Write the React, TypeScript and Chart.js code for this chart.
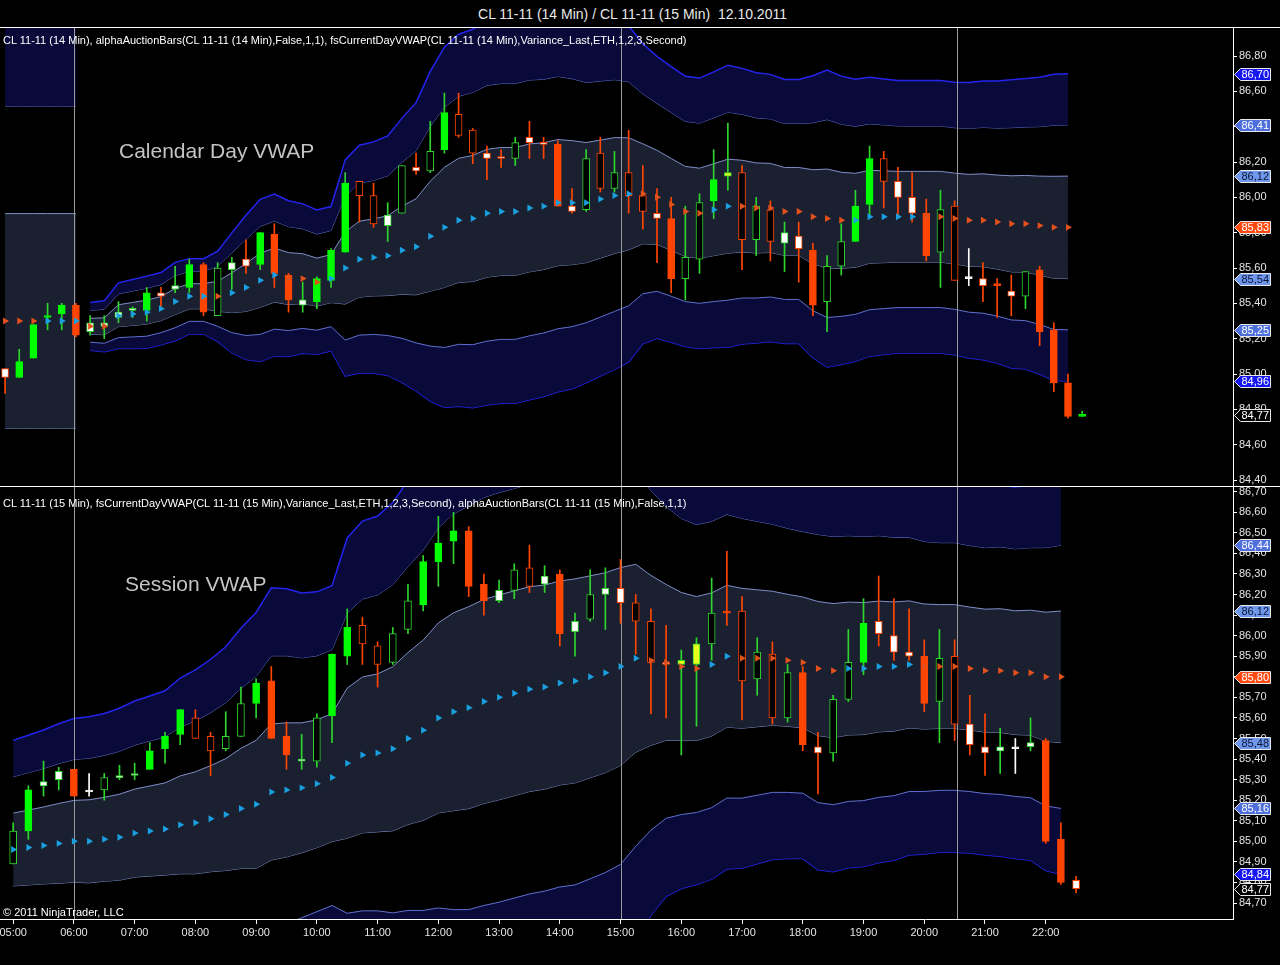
import { useEffect, useRef } from 'react'
import { Chart, registerables } from 'chart.js'
import type { ChartConfiguration, Plugin } from 'chart.js'

Chart.register(...registerables)

const FONT = '"Liberation Sans", Arial, sans-serif'

// x axis in minutes after 05:00
const X_MIN = -13
const X_MAX = 1205
const hourTicks = [0, 60, 120, 180, 240, 300, 360, 420, 480, 540, 600, 660, 720, 780, 840, 900, 960, 1020]
const sessionMarks = [60, 600, 932]

// ---- CL 11-11 (14 Min) ----
const topFirstBar = -8
const topBarMinutes = 14
const topOpen = [
  85.03, 84.98, 85.09, 85.32, 85.34, 85.39, 85.24, 85.27, 85.32, 85.36,
  85.36, 85.46, 85.48, 85.49, 85.62, 85.33, 85.59, 85.65, 85.62, 85.79,
  85.56, 85.39, 85.41, 85.53, 85.69, 86.09, 86.01, 85.84, 85.91, 86.17,
  86.15, 86.27, 86.47, 86.38, 86.25, 86.23, 86.22, 86.34, 86.31, 86.30,
  85.95, 85.93, 86.25, 86.05, 86.14, 86.01, 85.91, 85.88, 85.54, 85.65,
  85.98, 86.12, 86.14, 85.76, 85.93, 85.74, 85.78, 85.70, 85.41, 85.61,
  85.75, 85.96, 86.22, 86.09, 86.00, 85.91, 85.69, 85.95, 85.54, 85.54,
  85.50, 85.47, 85.44, 85.59, 85.25, 84.95, 84.76,
]
const topHigh = [
  85.03, 85.14, 85.28, 85.40, 85.40, 85.40, 85.33, 85.33, 85.41, 85.38,
  85.49, 85.49, 85.61, 85.65, 85.63, 85.63, 85.66, 85.76, 85.80, 85.85,
  85.57, 85.52, 85.55, 85.71, 86.14, 86.09, 86.08, 85.97, 86.18, 86.25,
  86.43, 86.59, 86.59, 86.39, 86.29, 86.27, 86.34, 86.43, 86.34, 86.32,
  86.05, 86.27, 86.34, 86.26, 86.38, 86.18, 86.05, 86.00, 85.95, 86.02,
  86.27, 86.42, 86.18, 86.00, 85.98, 85.86, 85.86, 85.74, 85.67, 85.85,
  86.04, 86.29, 86.26, 86.17, 86.14, 85.99, 86.04, 85.98, 85.71, 85.63,
  85.54, 85.56, 85.58, 85.61, 85.29, 85.00, 84.79,
]
const topLow = [
  84.89, 84.98, 85.09, 85.25, 85.25, 85.21, 85.22, 85.20, 85.29, 85.32,
  85.30, 85.38, 85.46, 85.46, 85.33, 85.33, 85.48, 85.57, 85.59, 85.49,
  85.35, 85.35, 85.37, 85.49, 85.69, 85.86, 85.83, 85.75, 85.91, 86.13,
  86.14, 86.25, 86.34, 86.19, 86.10, 86.17, 86.18, 86.22, 86.22, 85.95,
  85.91, 85.92, 86.03, 86.03, 85.91, 85.82, 85.63, 85.46, 85.42, 85.57,
  85.88, 86.04, 85.59, 85.67, 85.64, 85.58, 85.52, 85.33, 85.24, 85.56,
  85.75, 85.90, 85.94, 85.89, 85.86, 85.64, 85.49, 85.53, 85.50, 85.41,
  85.32, 85.33, 85.37, 85.16, 84.90, 84.75, 84.76,
]
const topClose = [
  84.98, 85.07, 85.28, 85.33, 85.39, 85.22, 85.29, 85.29, 85.35, 85.37,
  85.46, 85.44, 85.50, 85.62, 85.35, 85.60, 85.63, 85.61, 85.80, 85.57,
  85.42, 85.42, 85.54, 85.70, 86.08, 86.01, 85.85, 85.90, 86.18, 86.15,
  86.26, 86.48, 86.35, 86.25, 86.22, 86.22, 86.31, 86.31, 86.30, 85.95,
  85.92, 86.22, 86.05, 86.14, 86.01, 85.92, 85.88, 85.54, 85.66, 85.97,
  86.10, 86.14, 85.76, 85.95, 85.75, 85.80, 85.71, 85.39, 85.61, 85.75,
  85.95, 86.22, 86.09, 86.00, 85.91, 85.67, 85.93, 85.53, 85.54, 85.50,
  85.50, 85.44, 85.58, 85.24, 84.95, 84.76, 84.77,
]
// bar paint: G/g green filled/hollow, R/r orange filled/hollow, W/w white body, X white doji, Y yellow
const topKinds = 'WGGGGRwwww' + 'GWwGRgwWGR' + 'RwGGGrrwgW' + 'gGrrWWgWWR' + 'WgrgrrWRgg' +
  'GYrgrwWRgg' + 'GGrWWRgrXW' + 'RWgRRRG'
const topVwap = [
  85.30, 85.30, 85.30, 85.30, 85.30, 85.30,
  85.27, 85.27, 85.33, 85.34, 85.35, 85.37, 85.41, 85.44, 85.44, 85.44, 85.46, 85.49, 85.53, 85.56,
  85.54, 85.54, 85.52, 85.54, 85.60, 85.65, 85.66, 85.67, 85.70, 85.72,
  85.78, 85.83, 85.87, 85.88, 85.91, 85.92, 85.92, 85.94, 85.95, 85.97,
  85.97, 85.97, 85.99, 86.01, 86.02, 86.02, 86.00, 85.96, 85.92, 85.91,
  85.93, 85.95, 85.95, 85.94, 85.94, 85.92, 85.92, 85.89, 85.88, 85.87,
  85.87, 85.89, 85.89, 85.89, 85.89, 85.89, 85.89, 85.88, 85.87, 85.87,
  85.86, 85.85, 85.85, 85.84, 85.83, 85.83,
]
const topSigma = [
  0.608, 0.608, 0.608, 0.608, 0.608, 0.608,
  0.045, 0.048, 0.062, 0.065, 0.068, 0.068, 0.074, 0.071, 0.071, 0.085, 0.113, 0.136, 0.153, 0.153,
  0.147, 0.141, 0.136, 0.136, 0.204, 0.215, 0.218, 0.226, 0.249, 0.272,
  0.311, 0.340, 0.351, 0.357, 0.362, 0.362, 0.362, 0.362, 0.359, 0.357,
  0.351, 0.340, 0.334, 0.328, 0.317, 0.283, 0.266, 0.260, 0.255, 0.255,
  0.260, 0.266, 0.260, 0.255, 0.252, 0.249, 0.249, 0.266, 0.280, 0.272,
  0.266, 0.263, 0.260, 0.257, 0.257, 0.257, 0.257, 0.257, 0.260, 0.263,
  0.266, 0.272, 0.274, 0.280, 0.289, 0.290,
]
// c = cyan, o = orange
const topVwapSide = 'ooo' + 'ccc' + 'oo' + 'ccccccc' + 'o' + 'cccc' + 'ooo' + 'cccccccccccccccccccccc' +
  'ooooo' + 'cc' + 'oooooooo' + 'ccccc' + 'ooooooooooo'
const topSegments = [[0, 6], [6, 76]]

// ---- CL 11-11 (15 Min) ----
const bottomFirstBar = 0
const bottomBarMinutes = 15
const bottomOpen = [
  84.89, 85.05, 85.27, 85.30, 85.35, 85.24, 85.25, 85.31, 85.32, 85.35,
  85.45, 85.52, 85.60, 85.51, 85.45, 85.51, 85.67, 85.78, 85.51, 85.39,
  85.39, 85.61, 85.90, 86.05, 85.95, 85.87, 86.03, 86.15, 86.36, 86.46,
  86.51, 86.25, 86.17, 86.22, 86.33, 86.25, 86.30, 86.02, 86.08, 86.20,
  86.23, 86.16, 86.07, 85.87, 85.86, 85.86, 85.96, 86.12, 86.12, 85.79,
  85.91, 85.60, 85.82, 85.46, 85.43, 85.69, 85.87, 86.07, 86.00, 85.92,
  85.90, 85.68, 85.90, 85.57, 85.46, 85.44, 85.45, 85.46, 85.49, 85.01,
  84.81,
]
const bottomHigh = [
  85.09, 85.27, 85.39, 85.36, 85.35, 85.33, 85.33, 85.37, 85.38, 85.48,
  85.53, 85.64, 85.64, 85.53, 85.63, 85.75, 85.79, 85.85, 85.58, 85.52,
  85.62, 85.91, 86.13, 86.09, 85.97, 86.04, 86.25, 86.39, 86.58, 86.60,
  86.53, 86.30, 86.27, 86.35, 86.44, 86.34, 86.32, 86.11, 86.32, 86.33,
  86.37, 86.20, 86.13, 86.05, 85.93, 85.99, 86.28, 86.41, 86.19, 85.99,
  85.97, 85.86, 85.85, 85.53, 85.71, 86.03, 86.18, 86.29, 86.18, 86.13,
  85.98, 86.03, 85.98, 85.71, 85.62, 85.55, 85.50, 85.60, 85.50, 85.09,
  84.83,
]
const bottomLow = [
  84.89, 85.01, 85.22, 85.25, 85.22, 85.22, 85.20, 85.30, 85.30, 85.35,
  85.38, 85.47, 85.50, 85.32, 85.44, 85.51, 85.60, 85.50, 85.35, 85.35,
  85.36, 85.48, 85.86, 85.86, 85.75, 85.86, 86.01, 86.12, 86.24, 86.35,
  86.19, 86.10, 86.16, 86.18, 86.21, 86.21, 85.95, 85.90, 86.07, 86.03,
  86.06, 85.91, 85.62, 85.60, 85.42, 85.56, 85.88, 86.05, 85.59, 85.71,
  85.57, 85.58, 85.44, 85.23, 85.39, 85.68, 85.81, 85.95, 85.88, 85.88,
  85.63, 85.48, 85.49, 85.42, 85.32, 85.33, 85.33, 85.44, 84.99, 84.79,
  84.75,
]
const bottomClose = [
  85.05, 85.25, 85.29, 85.34, 85.22, 85.24, 85.31, 85.32, 85.33, 85.44,
  85.51, 85.64, 85.50, 85.44, 85.51, 85.67, 85.77, 85.50, 85.42, 85.40,
  85.60, 85.91, 86.04, 85.96, 85.86, 86.01, 86.17, 86.36, 86.45, 86.51,
  86.24, 86.17, 86.22, 86.32, 86.24, 86.29, 86.01, 86.07, 86.20, 86.23,
  86.16, 86.07, 85.87, 85.86, 85.88, 85.96, 86.11, 86.11, 85.78, 85.92,
  85.60, 85.82, 85.47, 85.43, 85.69, 85.87, 86.06, 86.01, 85.92, 85.90,
  85.67, 85.89, 85.57, 85.47, 85.43, 85.46, 85.45, 85.48, 85.00, 84.80,
  84.77,
]
const bottomKinds = 'gGwwRXgwwG' + 'GGrrggGRRw' + 'gGGrrggGGG' + 'RRwgrwRwgw' + 'WrrWYYgRrg' +
  'rgRWggGWWW' + 'RgrWWwXwRR' + 'W'
const bottomVwap = [
  84.96, 84.97, 84.98, 84.99, 85.00, 85.00, 85.01, 85.02, 85.04, 85.05,
  85.06, 85.08, 85.09, 85.11, 85.13, 85.16, 85.18, 85.24, 85.25, 85.26,
  85.28, 85.31, 85.38, 85.42, 85.43, 85.45, 85.50, 85.54, 85.60, 85.63,
  85.65, 85.68, 85.70, 85.72, 85.74, 85.75, 85.77, 85.78, 85.80, 85.82,
  85.85, 85.89, 85.88, 85.87, 85.85, 85.84, 85.86, 85.90, 85.89, 85.89,
  85.89, 85.88, 85.87, 85.84, 85.83, 85.84, 85.84, 85.85, 85.85, 85.86,
  85.85, 85.85, 85.85, 85.84, 85.83, 85.83, 85.82, 85.82, 85.80, 85.80,
]
const bottomSigma = [
  0.177, 0.182, 0.187, 0.194, 0.199, 0.202, 0.204, 0.209, 0.214, 0.219,
  0.224, 0.238, 0.248, 0.258, 0.272, 0.292, 0.311, 0.331, 0.326, 0.316,
  0.311, 0.311, 0.365, 0.379, 0.384, 0.399, 0.418, 0.438, 0.462, 0.481,
  0.491, 0.496, 0.498, 0.498, 0.498, 0.496, 0.496, 0.496, 0.491, 0.486,
  0.481, 0.457, 0.413, 0.379, 0.360, 0.350, 0.348, 0.345, 0.340, 0.333,
  0.326, 0.321, 0.318, 0.326, 0.326, 0.323, 0.321, 0.318, 0.314, 0.309,
  0.304, 0.301, 0.301, 0.299, 0.299, 0.301, 0.301, 0.304, 0.314, 0.320,
]
const bottomVwapSide = 'cccccccccccccccccccccccccccccccccccccccccc' + 'oooo' + 'cc' + 'ooooooo' + 'ccccc' + 'oooooooooo'
const bottomSegments = [[0, 70]]

// ---- styles ----
const GREEN = '#00ff00'
const GREEN_LINE = '#2fd52f'
const ORANGE = '#ff4500'
const WHITE = '#ffffff'
const NAVY = '#090a3a'
const SLATE = '#1a2030'
const CYAN = '#1a9fe0'
const DOT_ORANGE = '#e2501c'

const bodyPaint: Record<string, [string, string]> = {
  G: [GREEN, GREEN], g: ['#000000', GREEN_LINE],
  R: [ORANGE, ORANGE], r: ['#000000', ORANGE],
  W: [WHITE, ORANGE], w: [WHITE, GREEN_LINE],
  X: [WHITE, WHITE], Y: ['#e6ff1c', GREEN_LINE],
}
const wickPaint: Record<string, string> = {
  G: GREEN_LINE, g: GREEN_LINE, w: GREEN_LINE, Y: GREEN_LINE,
  R: ORANGE, r: ORANGE, W: ORANGE, X: WHITE,
}
const bandLines = [
  { k: 3, color: '#2424ee', width: 1.5, fill: NAVY },
  { k: 2, color: '#5f70cf', width: 1, fill: '' },
  { k: 1, color: '#7f8ec8', width: 1, fill: SLATE },
  { k: -1, color: '#7f8ec8', width: 1, fill: '' },
  { k: -2, color: '#5f70cf', width: 1, fill: NAVY },
  { k: -3, color: '#2424ee', width: 1.5, fill: '' },
]
// price tag colours by band multiple
const tagPaint: Record<number, [string, string]> = {
  3: ['#1616f0', '#ffffff'],
  2: ['#4f70dc', '#ffffff'],
  1: ['#6f98ec', '#0c1436'],
  0: ['#ff4a12', '#ffffff'],
}

interface PanelSpec {
  firstBar: number
  barMinutes: number
  open: number[]
  high: number[]
  low: number[]
  close: number[]
  kinds: string
  vwap: number[]
  sigma: number[]
  vwapSide: string
  segments: number[][]
  yMin: number
  yMax: number
  yStep: number
  showTime: boolean
}

interface Tag {
  value: number
  bg: string
  fg: string
}

const fmtPrice = (v: number) => v.toFixed(2).replace('.', ',')
const fmtTime = (v: number) => {
  const h = 5 + Math.floor(v / 60)
  const m = v % 60
  return `${String(h).padStart(2, '0')}:${String(m).padStart(2, '0')}`
}

const sessionPlugin: Plugin = {
  id: 'sessionLines',
  beforeDatasetDraw(chart, args) {
    if ((chart.data.datasets[args.index] as any).label !== 'wicks') return
    const { ctx, chartArea } = chart
    const x = chart.scales.x
    ctx.save()
    ctx.strokeStyle = '#9a9a9a'
    ctx.lineWidth = 1
    sessionMarks.forEach((t) => {
      const px = Math.round(x.getPixelForValue(t)) + 0.5
      ctx.beginPath()
      ctx.moveTo(px, chartArea.top)
      ctx.lineTo(px, chartArea.bottom)
      ctx.stroke()
    })
    ctx.restore()
  },
}

function makeTagPlugin(tags: Tag[]): Plugin {
  return {
    id: 'priceTags',
    afterDraw(chart) {
      const { ctx, chartArea } = chart
      const y = chart.scales.y
      ctx.save()
      ctx.font = `11px ${FONT}`
      ctx.textBaseline = 'middle'
      tags.forEach((tag) => {
        if (tag.value < y.min || tag.value > y.max) return
        const py = Math.round(y.getPixelForValue(tag.value)) + 0.5
        const x0 = chartArea.right + 1.5
        const w = 36
        const h = 12
        ctx.beginPath()
        ctx.moveTo(x0, py)
        ctx.lineTo(x0 + 6, py - h / 2)
        ctx.lineTo(x0 + w, py - h / 2)
        ctx.lineTo(x0 + w, py + h / 2)
        ctx.lineTo(x0 + 6, py + h / 2)
        ctx.closePath()
        ctx.fillStyle = tag.bg
        ctx.fill()
        ctx.strokeStyle = '#e8e8e8'
        ctx.lineWidth = 1
        ctx.stroke()
        ctx.fillStyle = tag.fg
        ctx.fillText(fmtPrice(tag.value), x0 + 7, py + 0.5)
      })
      ctx.restore()
    },
  }
}

function buildConfig(s: PanelSpec): ChartConfiguration {
  const times = s.open.map((_, i) => s.firstBar + i * s.barMinutes)
  const bands = s.segments.flatMap(([from, to]) =>
    bandLines.map((b) => ({
      type: 'line' as const,
      label: 'band',
      data: times.slice(from, to).map((x, j) => ({ x, y: s.vwap[from + j] + b.k * s.sigma[from + j] })),
      borderColor: b.color,
      borderWidth: b.width,
      backgroundColor: b.fill || 'transparent',
      fill: b.fill ? '+1' : false,
      pointRadius: 0,
      tension: 0,
      order: 10,
    })),
  )
  const kinds = [...s.kinds]
  const last = s.vwap.length - 1
  const v = s.vwap[last]
  const sd = s.sigma[last]
  const tags: Tag[] = [3, 2, 1, 0, -1, -2, -3].map((k) => ({
    value: v + k * sd,
    bg: tagPaint[Math.abs(k)][0],
    fg: tagPaint[Math.abs(k)][1],
  }))
  tags.push({ value: s.close[s.close.length - 1], bg: '#000000', fg: '#ffffff' })

  return {
    type: 'bar',
    data: {
      datasets: [
        ...bands,
        {
          type: 'bar' as const,
          label: 'wicks',
          data: times.map((x, i) => ({ x, y: [s.low[i], s.high[i]] })) as any,
          backgroundColor: kinds.map((k) => wickPaint[k]),
          barThickness: 1,
          grouped: false,
          minBarLength: 1,
          order: 3,
        },
        {
          type: 'bar' as const,
          label: 'bodies',
          data: times.map((x, i) => ({ x, y: [s.open[i], s.close[i]] })) as any,
          backgroundColor: kinds.map((k) => bodyPaint[k][0]),
          borderColor: kinds.map((k) => bodyPaint[k][1]),
          borderWidth: 1,
          borderSkipped: false,
          barThickness: 7,
          minBarLength: 2,
          grouped: false,
          order: 2,
        },
        {
          type: 'line' as const,
          label: 'vwap',
          data: s.vwap.map((y, i) => ({ x: times[i], y })),
          showLine: false,
          pointStyle: 'triangle',
          pointRotation: 90,
          pointRadius: 4,
          pointBorderWidth: 0,
          pointBackgroundColor: [...s.vwapSide].map((c) => (c === 'c' ? CYAN : DOT_ORANGE)),
          order: 1,
        },
      ] as any,
    },
    options: {
      responsive: false,
      animation: false,
      events: [],
      layout: { padding: 0, autoPadding: false },
      plugins: { legend: { display: false }, tooltip: { enabled: false } },
      scales: {
        x: {
          type: 'linear',
          min: X_MIN,
          max: X_MAX,
          offset: false,
          display: s.showTime,
          grid: { drawOnChartArea: false, drawTicks: true, tickLength: 5, color: '#ffffff', offset: false },
          border: { display: true, color: '#ffffff' },
          ticks: {
            color: '#e4e4e4',
            font: { family: FONT, size: 11 },
            padding: 2,
            maxRotation: 0,
            autoSkip: false,
            callback: (val) => fmtTime(Number(val)),
          },
          afterBuildTicks: (scale) => {
            scale.ticks = hourTicks.map((value) => ({ value }))
          },
          afterFit: (scale) => {
            scale.height = s.showTime ? 46 : 0
            scale.paddingLeft = 0
            scale.paddingRight = 0
          },
        },
        y: {
          type: 'linear',
          position: 'right',
          min: s.yMin,
          max: s.yMax,
          grid: { drawOnChartArea: false, drawTicks: true, tickLength: 4, color: '#ffffff' },
          border: { display: true, color: '#ffffff' },
          ticks: {
            stepSize: s.yStep,
            includeBounds: false,
            autoSkip: false,
            color: '#e4e4e4',
            font: { family: FONT, size: 11 },
            padding: 2,
            callback: (val) => fmtPrice(Number(val)),
          },
          afterFit: (scale) => {
            scale.width = 47
            scale.paddingTop = 0
            scale.paddingBottom = 0
          },
        },
      },
    },
    plugins: [sessionPlugin, makeTagPlugin(tags)],
  }
}

function Panel({ spec, height }: { spec: PanelSpec; height: number }) {
  const ref = useRef<HTMLCanvasElement>(null)

  useEffect(() => {
    if (!ref.current) return
    const chart = new Chart(ref.current, buildConfig(spec))
    return () => chart.destroy()
  }, [spec])

  return <canvas ref={ref} width={1280} height={height} style={{ display: 'block', width: 1280, height }} />
}

const topSpec: PanelSpec = {
  firstBar: topFirstBar, barMinutes: topBarMinutes,
  open: topOpen, high: topHigh, low: topLow, close: topClose, kinds: topKinds,
  vwap: topVwap, sigma: topSigma, vwapSide: topVwapSide, segments: topSegments,
  yMin: 84.3604, yMax: 86.9585, yStep: 0.2, showTime: false,
}
const bottomSpec: PanelSpec = {
  firstBar: bottomFirstBar, barMinutes: bottomBarMinutes,
  open: bottomOpen, high: bottomHigh, low: bottomLow, close: bottomClose, kinds: bottomKinds,
  vwap: bottomVwap, sigma: bottomSigma, vwapSide: bottomVwapSide, segments: bottomSegments,
  yMin: 84.6223, yMax: 86.7229, yStep: 0.1, showTime: true,
}

const text = (extra: React.CSSProperties): React.CSSProperties => ({
  position: 'absolute',
  fontFamily: FONT,
  lineHeight: 1,
  whiteSpace: 'pre',
  pointerEvents: 'none',
  ...extra,
})

export default function App() {
  return (
    <div style={{ position: 'fixed', left: 0, top: 0, width: 1280, height: 965, background: '#000', overflow: 'hidden' }}>
      <div style={text({ left: 0, top: 7, width: 1265, textAlign: 'center', fontSize: 14, color: '#e8e8e8' })}>
        {'CL 11-11 (14 Min) / CL 11-11 (15 Min)  12.10.2011'}
      </div>
      <div style={{ position: 'absolute', left: 0, top: 28 }}>
        <Panel spec={topSpec} height={459} />
      </div>
      <div style={{ position: 'absolute', left: 0, top: 487 }}>
        <Panel spec={bottomSpec} height={478} />
      </div>
      <div style={{ position: 'absolute', left: 0, top: 27, width: 1280, height: 1, background: '#ffffff' }} />
      <div style={{ position: 'absolute', left: 0, top: 486, width: 1280, height: 1, background: '#ffffff' }} />
      <div style={text({ left: 3, top: 35, fontSize: 11, color: '#ffffff' })}>
        CL 11-11 (14 Min), alphaAuctionBars(CL 11-11 (14 Min),False,1,1), fsCurrentDayVWAP(CL 11-11 (14 Min),Variance_Last,ETH,1,2,3,Second)
      </div>
      <div style={text({ left: 3, top: 498, fontSize: 11, color: '#ffffff' })}>
        CL 11-11 (15 Min), fsCurrentDayVWAP(CL 11-11 (15 Min),Variance_Last,ETH,1,2,3,Second), alphaAuctionBars(CL 11-11 (15 Min),False,1,1)
      </div>
      <div style={text({ left: 119, top: 140, fontSize: 21, color: '#c4c4c4' })}>Calendar Day VWAP</div>
      <div style={text({ left: 125, top: 573, fontSize: 21, color: '#c4c4c4' })}>Session VWAP</div>
      <div style={text({ left: 3, top: 907, fontSize: 11, color: '#ffffff' })}>© 2011 NinjaTrader, LLC</div>
    </div>
  )
}
